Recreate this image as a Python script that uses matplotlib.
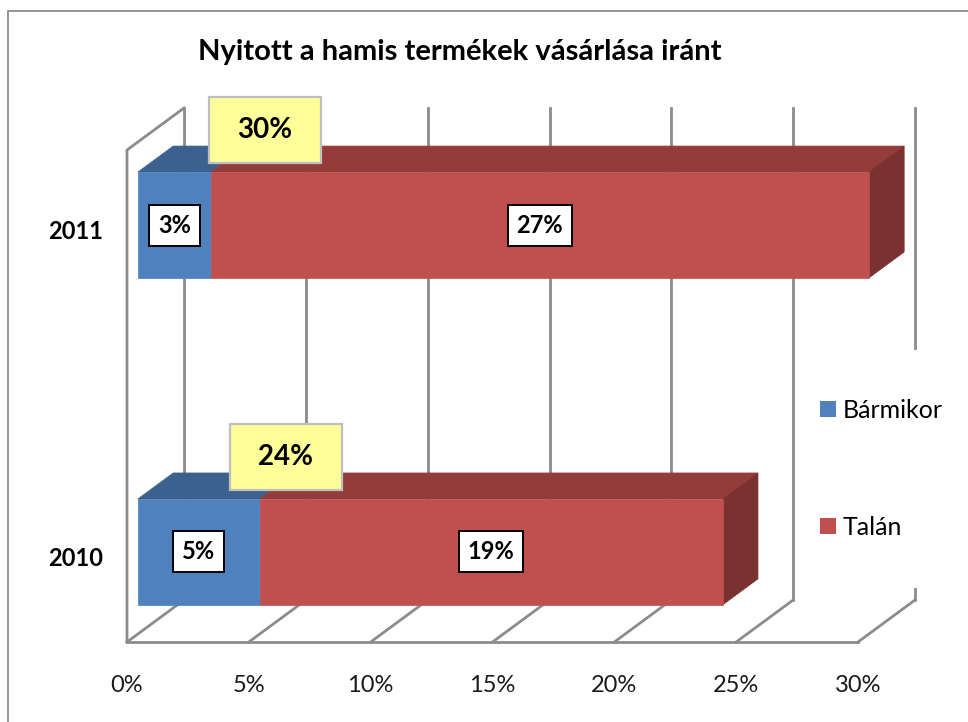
import matplotlib
matplotlib.use("Agg")
import matplotlib.pyplot as plt
from matplotlib.patches import Polygon, Rectangle
from matplotlib.lines import Line2D

# ---- data ----
categories = ["2010", "2011"]
barmikor = [5, 3]
talan = [19, 27]
totals = [24, 30]
series_names = ["Bármikor", "Talán"]
xticks = [0, 5, 10, 15, 20, 25, 30]
xtick_labels = ["0%", "5%", "10%", "15%", "20%", "25%", "30%"]
title = "Nyitott a hamis termékek vásárlása iránt"

# ---- style ----
FONT = "Lato"
W, H = 968, 722
fig = plt.figure(figsize=(W / 100, H / 100), dpi=100)
fig.patch.set_facecolor("white")

# axes = front plane of the 3D box (pixel layout)
ax_l, ax_r, ax_b, ax_t = 127, 858, 642, 150
ax = fig.add_axes([ax_l / W, (H - ax_b) / H, (ax_r - ax_l) / W, (ax_b - ax_t) / H])
XMIN, XMAX = 0, 30
YMIN, YMAX = -0.251, 1.254
ax.set_xlim(XMIN, XMAX)
ax.set_ylim(YMIN, YMAX)
ax.axis("off")

px_x = (ax_r - ax_l) / (XMAX - XMIN)
px_y = (ax_b - ax_t) / (YMAX - YMIN)
DX = 57 / px_x
DY = 42 / px_y


def P(x, y, d):
    return (x + d * DX, y + d * DY)


grid_c = "#8c8c8c"
glw = 2.0
# back wall gridlines
for k in xticks:
    ax.add_line(Line2D(*zip(P(k, YMIN, 1), P(k, YMAX, 1)), color=grid_c, lw=glw,
                       clip_on=False, zorder=1))
    # floor diagonals
    ax.add_line(Line2D(*zip(P(k, YMIN, 0), P(k, YMIN, 1)), color=grid_c, lw=glw,
                       clip_on=False, zorder=1))
# floor front edge
ax.add_line(Line2D(*zip(P(0, YMIN, 0), P(30, YMIN, 0)), color=grid_c, lw=glw,
                   clip_on=False, zorder=1))
# left wall
ax.add_line(Line2D(*zip(P(0, YMIN, 0), P(0, YMAX, 0), P(0, YMAX, 1)), color=grid_c,
                   lw=glw, clip_on=False, zorder=1))

# bars
d0, d1 = 0.19, 0.81
bh = 0.324
cols = {
    "Bármikor": ("#4f81bd", "#3c618f", "#385d8a"),
    "Talán": ("#c0504d", "#943c3a", "#7a3230"),
}
for i, cat in enumerate(categories):
    yc = i
    lefts = [0, barmikor[i]]
    widths = [barmikor[i], talan[i]]
    for j, name in enumerate(series_names):
        front, top, side = cols[name]
        x0 = lefts[j]
        x1 = x0 + widths[j]
        yb, yt = yc - bh / 2, yc + bh / 2
        fr = [P(x0, yb, d0), P(x1, yb, d0), P(x1, yt, d0), P(x0, yt, d0)]
        tp = [P(x0, yt, d0), P(x1, yt, d0), P(x1, yt, d1), P(x0, yt, d1)]
        sd = [P(x1, yb, d0), P(x1, yt, d0), P(x1, yt, d1), P(x1, yb, d1)]
        ax.add_patch(Polygon(tp, closed=True, facecolor=top, edgecolor=top, lw=0.5,
                             clip_on=False, zorder=3))
        if j == len(series_names) - 1:
            ax.add_patch(Polygon(sd, closed=True, facecolor=side, edgecolor=side, lw=0.5,
                                 clip_on=False, zorder=3))
        ax.add_patch(Polygon(fr, closed=True, facecolor=front, edgecolor=front, lw=0.5,
                             clip_on=False, zorder=4))
        # segment label
        cx, cy = P((x0 + x1) / 2, yc, d0)
        ax.text(cx, cy, f"{widths[j]}%", ha="center", va="center", fontsize=17,
                fontweight="bold", family=FONT, zorder=6,
                bbox=dict(boxstyle="square,pad=0.38", facecolor="white",
                          edgecolor="black", lw=1.4))

# total labels (yellow boxes) above the bars
total_label_x = [6.52, 5.66]
box_w, box_h = 112 / px_x, 66 / px_y
for i, tot in enumerate(totals):
    ty = P(0, i + bh / 2, d1)[1] + 16 / px_y
    tx = total_label_x[i]
    ax.add_patch(Rectangle((tx - box_w / 2, ty - box_h / 2), box_w, box_h,
                           facecolor="#ffff99", edgecolor="#bfbfbf", lw=1.6,
                           clip_on=False, zorder=7))
    ax.text(tx, ty, f"{tot}%", ha="center", va="center", fontsize=20,
            fontweight="bold", family=FONT, zorder=8)

# category labels
for i, cat in enumerate(categories):
    ax.text(-24 / px_x, i + 0.005, cat, ha="right", va="center", fontsize=17,
            fontweight="bold", family=FONT)

# x tick labels
for k, lab in zip(xticks, xtick_labels):
    ax.text(k, YMIN - 44 / px_y, lab, ha="center", va="center", fontsize=17,
            family=FONT, color="#1a1a1a")

# title
fig.text(459.5 / W, 1 - 52 / H, title, ha="center", va="center", fontsize=21,
         fontweight="bold", family=FONT)

# legend area background (hides part of the 30% back gridline, as in the reference)
fig.add_artist(Rectangle((806 / W, 1 - 588 / H), 160 / W, 238 / H,
                         transform=fig.transFigure, facecolor="white",
                         edgecolor="none", zorder=5))
handles = [Rectangle((0, 0), 1, 1, facecolor=cols[n][0], edgecolor="none")
           for n in series_names]
leg = fig.legend(handles, series_names, loc="center left",
                 bbox_to_anchor=(773 / W, 1 - 469 / H), frameon=False,
                 prop={"family": FONT, "size": 18}, labelspacing=3.76,
                 handlelength=0.64, handleheight=0.64, handletextpad=0.3,
                 borderpad=1.86, borderaxespad=0)
leg.set_zorder(10)

# outer chart border
fig.add_artist(Rectangle((8 / W, -0.05), 1.1, 1 - 11 / H + 0.05, transform=fig.transFigure,
                         facecolor="none", edgecolor="#8c8c8c", lw=1.3))

fig.savefig("out.png", dpi=100, facecolor="white")
